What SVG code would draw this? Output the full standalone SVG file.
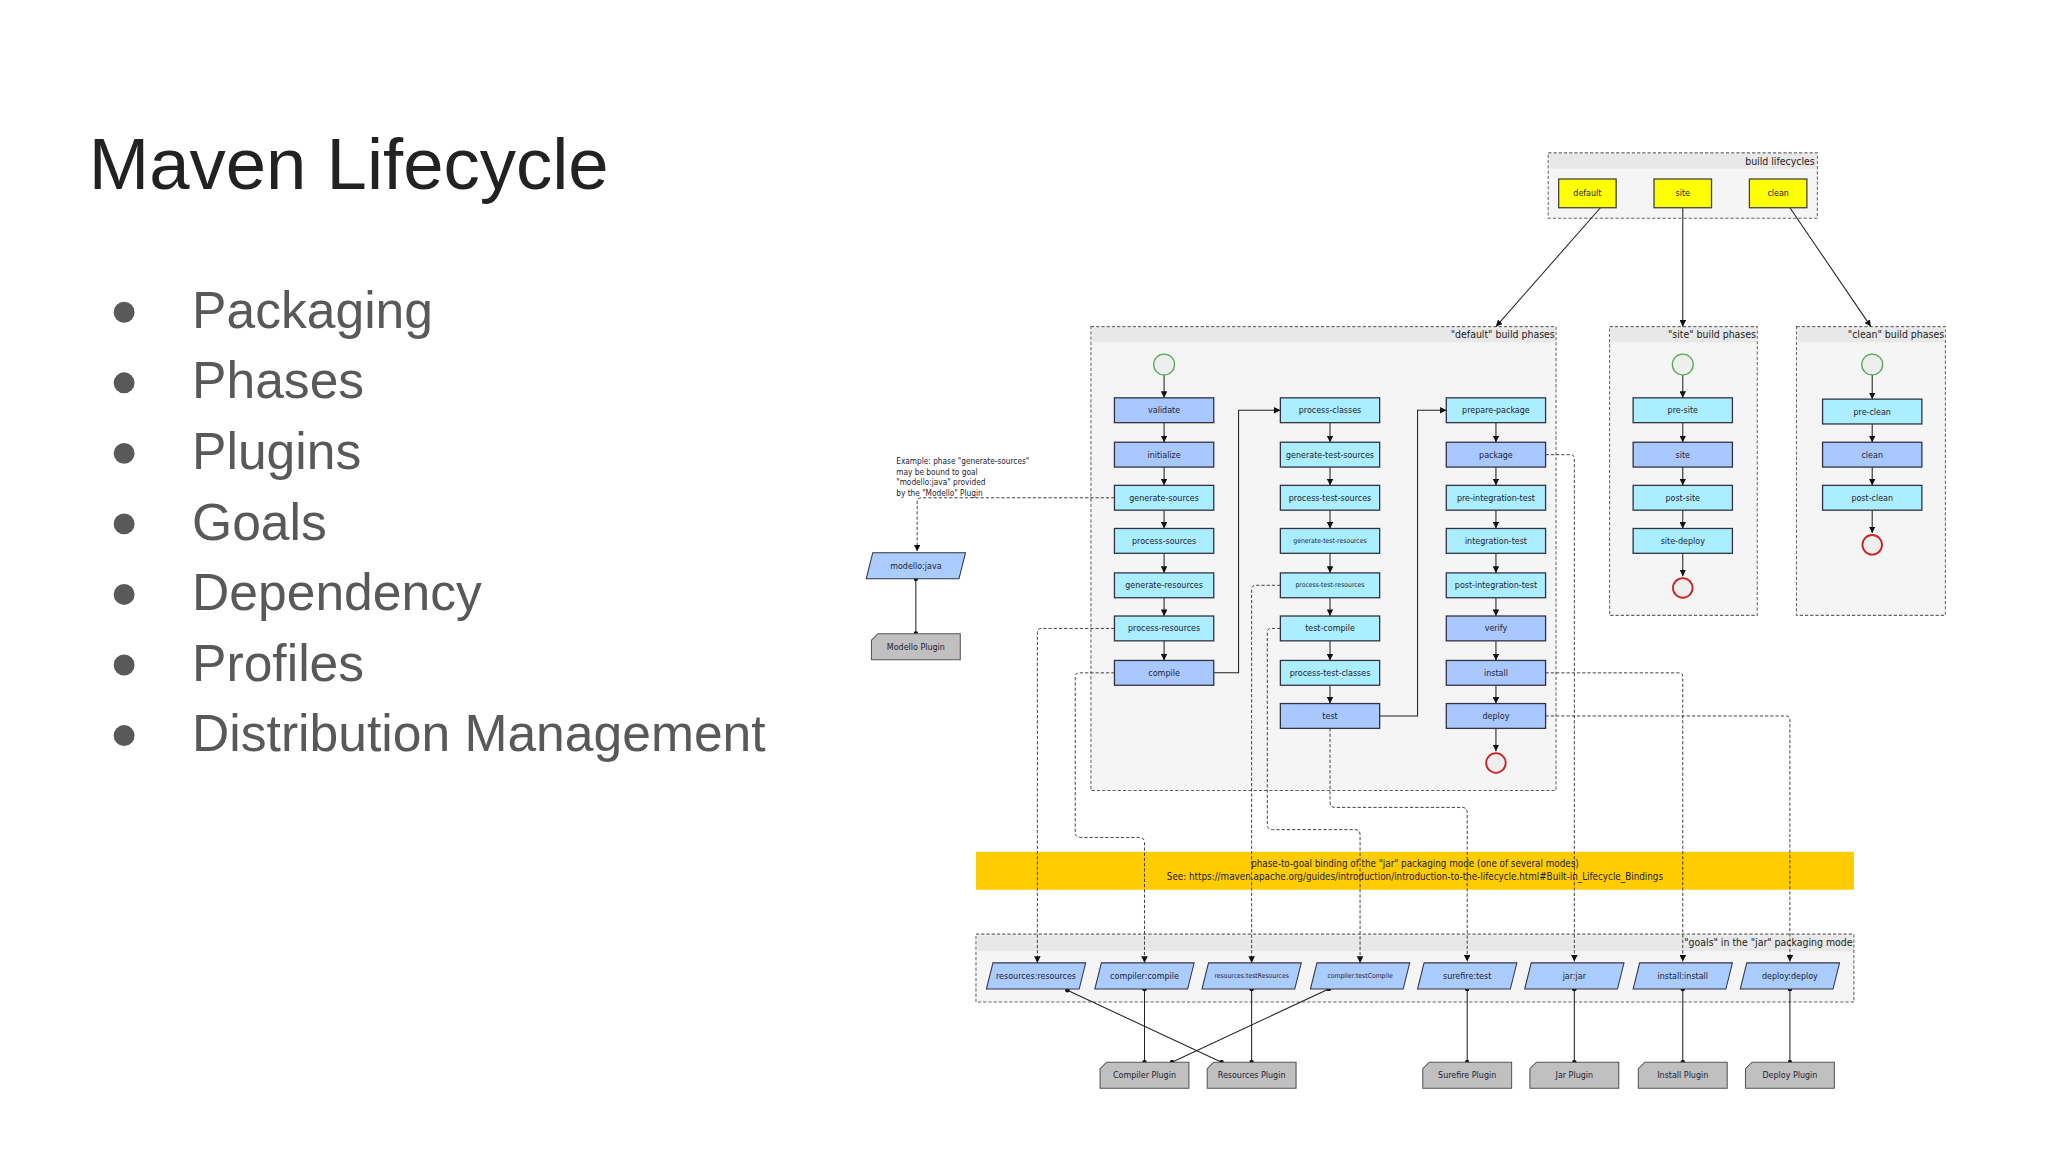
<svg xmlns="http://www.w3.org/2000/svg" xmlns:xlink="http://www.w3.org/1999/xlink" width="2048" height="1152" viewBox="0 0 2048 1152">
<style>
.t{font-family:"DejaVu Sans Condensed","DejaVu Sans",sans-serif;font-size:6.8px;fill:#223;text-anchor:middle;dominant-baseline:central}
.sm{font-size:5.2px}
.lab{font-family:"DejaVu Sans Condensed","DejaVu Sans",sans-serif;font-size:8px;fill:#222;text-anchor:end}
.cl{fill:#f5f5f5;stroke:#666;stroke-width:0.8;stroke-dasharray:2.5,1.5}
.hd{fill:#e8e8e8}
.pa{fill:#a8c8ff;stroke:#334;stroke-width:1}
.pb{fill:#aaeeff;stroke:#334;stroke-width:1}
.y{fill:#ffff00;stroke:#444;stroke-width:1}
.g{fill:#aaccff;stroke:#334;stroke-width:0.8}
.pl{fill:#c0c0c0;stroke:#555;stroke-width:0.8}
.s{fill:none;stroke:#222;stroke-width:0.8}
.d{fill:none;stroke:#333;stroke-width:0.7;stroke-dasharray:2.5,1.5}
.st{fill:#eee;stroke:#5a5;stroke-width:1}
.en{fill:#eee;stroke:#c22;stroke-width:1.4}
.bul{font-family:"Liberation Sans",Arial,sans-serif;font-size:39.5px;fill:#595959}
</style>
<defs>
<marker id="a" viewBox="0 0 10 10" refX="10" refY="5" markerWidth="5" markerHeight="5" markerUnits="userSpaceOnUse" orient="auto"><path d="M0,0 L10,5 L0,10 Z" fill="#111"/></marker>
<marker id="dot" viewBox="0 0 10 10" refX="5" refY="5" markerWidth="3.5" markerHeight="3.5" markerUnits="userSpaceOnUse"><circle cx="5" cy="5" r="5" fill="#111"/></marker>
<polygon id="para" points="-33,-10 38,-10 33,10 -38,10"/>
<path id="plug" d="M-29,-10 H34 V10 H-34 V-5 Z"/>
<rect id="ph" x="-38" y="-9.5" width="76" height="19"/>
</defs>
<rect width="2048" height="1152" fill="#fff"/>
<g transform="scale(1.3065)">
<text x="68" y="145" font-family="Liberation Sans,Arial,sans-serif" font-size="55.5" fill="#222">Maven Lifecycle</text>
<g id="bullets">
<circle cx="95" cy="239" r="8" fill="#595959"/><text class="bul" x="147" y="251">Packaging</text>
<circle cx="95" cy="293" r="8" fill="#595959"/><text class="bul" x="147" y="305">Phases</text>
<circle cx="95" cy="347" r="8" fill="#595959"/><text class="bul" x="147" y="359">Plugins</text>
<circle cx="95" cy="401" r="8" fill="#595959"/><text class="bul" x="147" y="413">Goals</text>
<circle cx="95" cy="455" r="8" fill="#595959"/><text class="bul" x="147" y="467">Dependency</text>
<circle cx="95" cy="509" r="8" fill="#595959"/><text class="bul" x="147" y="521">Profiles</text>
<circle cx="95" cy="563" r="8" fill="#595959"/><text class="bul" x="147" y="575">Distribution Management</text>
</g>
<g id="clusters">
<rect class="cl" x="1185" y="117" width="206" height="50"/><rect class="hd" x="1186" y="118" width="204" height="11"/><text class="lab" x="1389" y="126">build lifecycles</text>
<rect class="cl" x="835" y="250" width="356" height="355"/><rect class="hd" x="836" y="251" width="354" height="11"/><text class="lab" x="1190" y="259">"default" build phases</text>
<rect class="cl" x="1232" y="250" width="113" height="221"/><rect class="hd" x="1233" y="251" width="111" height="11"/><text class="lab" x="1344" y="259">"site" build phases</text>
<rect class="cl" x="1375" y="250" width="114" height="221"/><rect class="hd" x="1376" y="251" width="112" height="11"/><text class="lab" x="1488" y="259">"clean" build phases</text>
<rect x="747" y="652" width="672" height="29" fill="#ffcc00"/>
<text class="t" x="1083" y="661" style="font-size:7.5px">phase-to-goal binding of the "jar" packaging mode (one of several modes)</text>
<text class="t" x="1083" y="671" style="font-size:7.5px">See: https://maven.apache.org/guides/introduction/introduction-to-the-lifecycle.html#Built-in_Lifecycle_Bindings</text>
<rect class="cl" x="747" y="715" width="672" height="52"/><rect class="hd" x="748" y="716" width="670" height="12"/><text class="lab" x="1418" y="724">"goals" in the "jar" packaging mode</text>
</g>
<g id="connectors">
<path class="s" d="M1225,159 L1145,250" marker-end="url(#a)"/>
<path class="s" d="M1288,159 L1288,250" marker-end="url(#a)"/>
<path class="s" d="M1370,159 L1432,250" marker-end="url(#a)"/>
<g class="s" marker-end="url(#a)">
<path d="M891,287 V304.5"/><path d="M891,323.5 V338.5"/><path d="M891,357.5 V371.5"/><path d="M891,390.5 V404.5"/><path d="M891,423.5 V438.5"/><path d="M891,457.5 V471.5"/><path d="M891,490.5 V505.5"/>
<path d="M1018,323.5 V338.5"/><path d="M1018,357.5 V371.5"/><path d="M1018,390.5 V404.5"/><path d="M1018,423.5 V438.5"/><path d="M1018,457.5 V471.5"/><path d="M1018,490.5 V505.5"/><path d="M1018,524.5 V538.5"/>
<path d="M1145,323.5 V338.5"/><path d="M1145,357.5 V371.5"/><path d="M1145,390.5 V404.5"/><path d="M1145,423.5 V438.5"/><path d="M1145,457.5 V471.5"/><path d="M1145,490.5 V505.5"/><path d="M1145,524.5 V538.5"/><path d="M1145,557.5 V575"/>
<path d="M929,515 H948 V314 H980"/><path d="M1056,548 H1085 V314 H1107"/>
<path d="M1288,287 V304.5"/><path d="M1288,323.5 V338.5"/><path d="M1288,357.5 V371.5"/><path d="M1288,390.5 V404.5"/><path d="M1288,423.5 V441"/>
<path d="M1433,287 V305.5"/><path d="M1433,324.5 V338.5"/><path d="M1433,357.5 V371.5"/><path d="M1433,390.5 V408"/>
</g>
<g class="d" marker-end="url(#a)">
<path d="M853,381 H705 Q702,381 702,384 V422"/>
<path d="M853,481 H797 Q794,481 794,484 V737"/>
<path d="M853,515 H826 Q823,515 823,518 V637 Q823,641 827,641 H872 Q876,641 876,645 V737"/>
<path d="M980,448 H961 Q958,448 958,451 V737"/>
<path d="M980,481 H973 Q970,481 970,484 V631 Q970,635 974,635 H1037 Q1041,635 1041,639 V737"/>
<path d="M1018,557.5 V614 Q1018,618 1022,618 H1119 Q1123,618 1123,622 V736"/>
<path d="M1183,348 H1202 Q1205,348 1205,351 V736"/>
<path d="M1183,515 H1285 Q1288,515 1288,518 V736"/>
<path d="M1183,548 H1367 Q1370,548 1370,551 V736"/>
</g>
<g class="s" marker-start="url(#dot)" marker-end="url(#dot)">
<path d="M701,443 V485"/>
<path d="M876,757 V813"/><path d="M958,757 V813"/><path d="M1123,757 V813"/><path d="M1205,757 V813"/><path d="M1288,757 V813"/><path d="M1370,757 V813"/>
<path d="M817,758 L935,813"/><path d="M1017,757 L897,813"/>
</g>
</g>
<g id="lifecycles">
<rect class="y" x="1193" y="137" width="44" height="22"/><text class="t" x="1215" y="148">default</text>
<rect class="y" x="1266" y="137" width="44" height="22"/><text class="t" x="1288" y="148">site</text>
<rect class="y" x="1339" y="137" width="44" height="22"/><text class="t" x="1361" y="148">clean</text>
</g>
<g id="default-phases">
<circle class="st" cx="891" cy="279" r="8"/>
<use href="#ph" x="891" y="314" class="pa"/><text class="t" x="891" y="314">validate</text>
<use href="#ph" x="891" y="348" class="pa"/><text class="t" x="891" y="348">initialize</text>
<use href="#ph" x="891" y="381" class="pb"/><text class="t" x="891" y="381">generate-sources</text>
<use href="#ph" x="891" y="414" class="pb"/><text class="t" x="891" y="414">process-sources</text>
<use href="#ph" x="891" y="448" class="pb"/><text class="t" x="891" y="448">generate-resources</text>
<use href="#ph" x="891" y="481" class="pb"/><text class="t" x="891" y="481">process-resources</text>
<use href="#ph" x="891" y="515" class="pa"/><text class="t" x="891" y="515">compile</text>
<use href="#ph" x="1018" y="314" class="pb"/><text class="t" x="1018" y="314">process-classes</text>
<use href="#ph" x="1018" y="348" class="pb"/><text class="t" x="1018" y="348">generate-test-sources</text>
<use href="#ph" x="1018" y="381" class="pb"/><text class="t" x="1018" y="381">process-test-sources</text>
<use href="#ph" x="1018" y="414" class="pb"/><text class="t sm" x="1018" y="414">generate-test-resources</text>
<use href="#ph" x="1018" y="448" class="pb"/><text class="t sm" x="1018" y="448">process-test-resources</text>
<use href="#ph" x="1018" y="481" class="pb"/><text class="t" x="1018" y="481">test-compile</text>
<use href="#ph" x="1018" y="515" class="pb"/><text class="t" x="1018" y="515">process-test-classes</text>
<use href="#ph" x="1018" y="548" class="pa"/><text class="t" x="1018" y="548">test</text>
<use href="#ph" x="1145" y="314" class="pb"/><text class="t" x="1145" y="314">prepare-package</text>
<use href="#ph" x="1145" y="348" class="pa"/><text class="t" x="1145" y="348">package</text>
<use href="#ph" x="1145" y="381" class="pb"/><text class="t" x="1145" y="381">pre-integration-test</text>
<use href="#ph" x="1145" y="414" class="pb"/><text class="t" x="1145" y="414">integration-test</text>
<use href="#ph" x="1145" y="448" class="pb"/><text class="t" x="1145" y="448">post-integration-test</text>
<use href="#ph" x="1145" y="481" class="pa"/><text class="t" x="1145" y="481">verify</text>
<use href="#ph" x="1145" y="515" class="pa"/><text class="t" x="1145" y="515">install</text>
<use href="#ph" x="1145" y="548" class="pa"/><text class="t" x="1145" y="548">deploy</text>
<circle class="en" cx="1145" cy="584" r="7.5"/>
</g>
<g id="site-phases">
<circle class="st" cx="1288" cy="279" r="8"/>
<use href="#ph" x="1288" y="314" class="pb"/><text class="t" x="1288" y="314">pre-site</text>
<use href="#ph" x="1288" y="348" class="pa"/><text class="t" x="1288" y="348">site</text>
<use href="#ph" x="1288" y="381" class="pb"/><text class="t" x="1288" y="381">post-site</text>
<use href="#ph" x="1288" y="414" class="pb"/><text class="t" x="1288" y="414">site-deploy</text>
<circle class="en" cx="1288" cy="450" r="7.5"/>
</g>
<g id="clean-phases">
<circle class="st" cx="1433" cy="279" r="8"/>
<use href="#ph" x="1433" y="315" class="pb"/><text class="t" x="1433" y="315">pre-clean</text>
<use href="#ph" x="1433" y="348" class="pa"/><text class="t" x="1433" y="348">clean</text>
<use href="#ph" x="1433" y="381" class="pb"/><text class="t" x="1433" y="381">post-clean</text>
<circle class="en" cx="1433" cy="417" r="7.5"/>
</g>
<g id="modello">
<text class="t" x="686" y="353" style="text-anchor:start;font-size:6.3px">Example: phase "generate-sources"</text>
<text class="t" x="686" y="361" style="text-anchor:start;font-size:6.3px">may be bound to goal</text>
<text class="t" x="686" y="369" style="text-anchor:start;font-size:6.3px">"modello:java" provided</text>
<text class="t" x="686" y="377" style="text-anchor:start;font-size:6.3px">by the "Modello" Plugin</text>
<use href="#para" x="701" y="433" class="g"/><text class="t" x="701" y="433">modello:java</text>
<use href="#plug" x="701" y="495" class="pl"/><text class="t" x="701" y="495">Modello Plugin</text>
</g>
<g id="goals">
<use href="#para" x="793" y="747" class="g"/><text class="t" x="793" y="747">resources:resources</text>
<use href="#para" x="876" y="747" class="g"/><text class="t" x="876" y="747">compiler:compile</text>
<use href="#para" x="958" y="747" class="g"/><text class="t sm" x="958" y="747">resources:testResources</text>
<use href="#para" x="1041" y="747" class="g"/><text class="t sm" x="1041" y="747">compiler:testCompile</text>
<use href="#para" x="1123" y="747" class="g"/><text class="t" x="1123" y="747">surefire:test</text>
<use href="#para" x="1205" y="747" class="g"/><text class="t" x="1205" y="747">jar:jar</text>
<use href="#para" x="1288" y="747" class="g"/><text class="t" x="1288" y="747">install:install</text>
<use href="#para" x="1370" y="747" class="g"/><text class="t" x="1370" y="747">deploy:deploy</text>
</g>
<g id="plugins">
<use href="#plug" x="876" y="823" class="pl"/><text class="t" x="876" y="823">Compiler Plugin</text>
<use href="#plug" x="958" y="823" class="pl"/><text class="t" x="958" y="823">Resources Plugin</text>
<use href="#plug" x="1123" y="823" class="pl"/><text class="t" x="1123" y="823">Surefire Plugin</text>
<use href="#plug" x="1205" y="823" class="pl"/><text class="t" x="1205" y="823">Jar Plugin</text>
<use href="#plug" x="1288" y="823" class="pl"/><text class="t" x="1288" y="823">Install Plugin</text>
<use href="#plug" x="1370" y="823" class="pl"/><text class="t" x="1370" y="823">Deploy Plugin</text>
</g>
</g>
</svg>
